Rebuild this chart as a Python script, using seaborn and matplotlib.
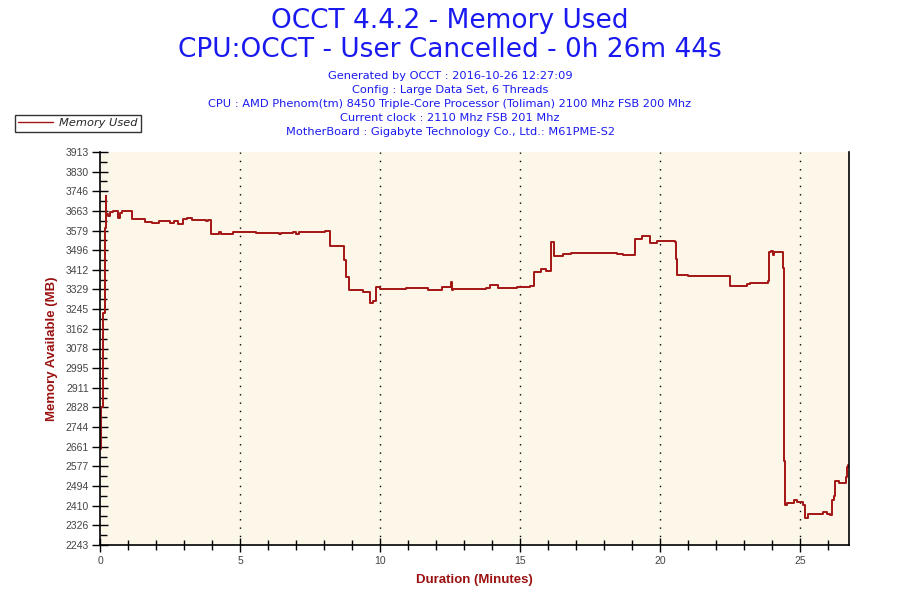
import matplotlib
matplotlib.use("Agg")
import matplotlib.pyplot as plt
import seaborn as sns
import pandas as pd
from matplotlib.ticker import MultipleLocator, FixedLocator
from matplotlib.lines import Line2D

# ---- data (step series) ----
time_min = [0.00, 0.05, 0.10, 0.17, 0.20, 0.22, 0.30, 0.35, 0.45, 0.66, 0.72, 0.80,
            1.13, 1.60, 1.85, 2.10, 2.50, 2.65, 2.80, 2.95, 3.10, 3.30, 3.80, 3.85,
            3.95, 4.26, 4.32, 4.76, 5.00, 5.40, 5.57, 6.40, 6.45, 6.90, 7.00, 7.10,
            7.64, 8.04, 8.21, 8.63, 8.71, 8.79, 8.90, 9.40, 9.64, 9.76, 9.86, 10.00,
            10.45, 10.93, 11.73, 11.85, 12.20, 12.54, 12.58, 12.62, 13.79, 13.93, 14.23,
            14.88, 15.36, 15.50, 15.74, 15.92, 16.10, 16.23, 16.52, 16.82, 18.45, 18.69,
            19.10, 19.35, 19.64, 19.88, 20.54, 20.57, 20.62, 21.00, 22.43, 22.50, 23.10,
            23.20, 23.85, 23.88, 23.95, 24.02, 24.08, 24.40, 24.44, 24.48, 24.52, 24.64,
            24.79, 24.90, 25.00, 25.12, 25.18, 25.30, 25.71, 25.83, 25.95, 26.07, 26.16,
            26.21, 26.25, 26.39, 26.63, 26.67, 26.73]
memory_mb = [2650, 2830, 3230, 3590, 3727, 3650, 3640, 3658, 3662, 3632, 3655, 3662,
             3627, 3617, 3612, 3618, 3610, 3620, 3606, 3627, 3631, 3624, 3618, 3624,
             3565, 3572, 3563, 3572, 3575, 3572, 3569, 3564, 3569, 3572, 3566, 3572,
             3574, 3578, 3513, 3515, 3454, 3383, 3327, 3319, 3270, 3280, 3340, 3330,
             3331, 3335, 3325, 3325, 3338, 3362, 3328, 3331, 3335, 3348, 3334,
             3338, 3344, 3404, 3414, 3406, 3532, 3470, 3478, 3484, 3478, 3474,
             3545, 3556, 3528, 3534, 3532, 3457, 3390, 3385, 3385, 3343, 3350,
             3355, 3363, 3489, 3492, 3476, 3487, 3419, 2600, 2413, 2420, 2422,
             2434, 2427, 2427, 2413, 2359, 2373, 2373, 2382, 2373, 2369, 2434,
             2451, 2515, 2508, 2533, 2573, 2585]

y_ticks = [2243, 2326, 2410, 2494, 2577, 2661, 2744, 2828, 2911, 2995, 3078,
           3162, 3245, 3329, 3412, 3496, 3579, 3663, 3746, 3830, 3913]
x_ticks = [0, 5, 10, 15, 20, 25]

title_lines = ["OCCT 4.4.2 - Memory Used", "CPU:OCCT - User Cancelled - 0h 26m 44s"]
info_lines = ["Generated by OCCT : 2016-10-26 12:27:09",
              "Config : Large Data Set, 6 Threads",
              "CPU : AMD Phenom(tm) 8450 Triple-Core Processor (Toliman) 2100 Mhz FSB 200 Mhz",
              "Current clock : 2110 Mhz FSB 201 Mhz",
              "MotherBoard : Gigabyte Technology Co., Ltd.: M61PME-S2"]
series_name = "Memory Used"

df = pd.DataFrame({"t": time_min, "mem": memory_mb})

sns.set_style("white")
plt.rcParams["font.family"] = ["DejaVu Sans"]

line_color = "#A31515"
blue = "#1A1AF0"
label_red = "#9B1111"

fig = plt.figure(figsize=(9, 6), dpi=100)
fig.patch.set_facecolor("white")
ax = fig.add_axes([100/900, 55/600, 749/900, 393/600])
ax.set_facecolor("#FDF7E9")

sns.lineplot(data=df, x="t", y="mem", ax=ax, color=line_color, linewidth=1.4,
             drawstyle="steps-post", legend=False, sort=False)

ax.set_xlim(0, 26.75)
ax.set_ylim(2243, 3913)
ax.yaxis.set_major_locator(FixedLocator(y_ticks))
minor_y = [(a + b) / 2 for a, b in zip(y_ticks[:-1], y_ticks[1:])]
ax.yaxis.set_minor_locator(FixedLocator(minor_y))
ax.set_yticklabels([str(v) for v in y_ticks], family="Liberation Sans")
ax.xaxis.set_major_locator(FixedLocator(x_ticks))
ax.xaxis.set_minor_locator(MultipleLocator(1))
ax.set_xticklabels([str(v) for v in x_ticks], family="Liberation Sans")

for xv in x_ticks[1:]:
    ax.axvline(xv, color="black", linestyle=(0, (1, 5)), linewidth=1.0, zorder=0)

for s in ["left", "bottom"]:
    ax.spines[s].set_color("black")
    ax.spines[s].set_linewidth(1.2)
ax.spines["top"].set_visible(False)
ax.spines["right"].set_color("black")
ax.spines["right"].set_linewidth(1.2)

ax.tick_params(axis="both", which="both", left=True, bottom=True, right=False, top=False)
ax.tick_params(axis="y", which="major", direction="inout", length=12, width=1,
               colors="black", labelcolor="#444444", labelsize=7.5, pad=2)
ax.tick_params(axis="y", which="minor", direction="in", length=5, width=1, colors="black")
ax.tick_params(axis="x", which="major", direction="inout", length=10, width=1,
               colors="black", labelcolor="#444444", labelsize=7.5, pad=3)
ax.tick_params(axis="x", which="minor", direction="inout", length=7, width=1, colors="black")

ax.set_xlabel("Duration (Minutes)", color=label_red, fontsize=9.5, fontweight="bold",
              family="Liberation Sans", labelpad=6)
ax.set_ylabel("Memory Available (MB)", color=label_red, fontsize=9.5, fontweight="bold",
              family="Liberation Sans", labelpad=5)

fig.text(0.5, 1 - 21/600, title_lines[0], ha="center", va="center", color=blue, fontsize=19)
fig.text(0.5, 1 - 50/600, title_lines[1], ha="center", va="center", color=blue, fontsize=19)
for i, line in enumerate(info_lines):
    fig.text(0.5, 1 - (76 + 14*i)/600, line, ha="center", va="center", color=blue,
             fontsize=8.2)

handle = Line2D([0], [0], color=line_color, linewidth=1)
leg = fig.legend([handle], [series_name], loc="upper left",
                 bbox_to_anchor=(15/900, 1 - 115/600), frameon=True, fancybox=False,
                 prop={"style": "italic", "size": 8.2}, handlelength=3.0,
                 borderpad=0.3, handletextpad=0.6, borderaxespad=0)
leg.get_frame().set_edgecolor("black")
leg.get_frame().set_linewidth(1)

fig.savefig("out.png", dpi=100, facecolor="white")
